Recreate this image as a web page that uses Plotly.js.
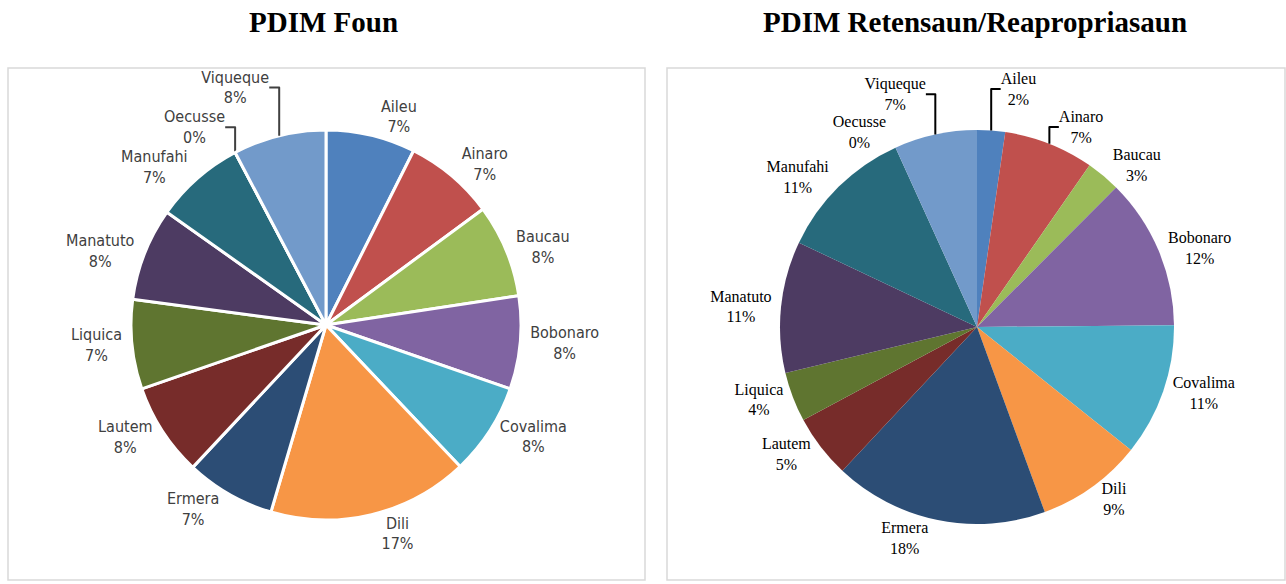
<!DOCTYPE html>
<html>
<head>
<meta charset="utf-8">
<script src="https://cdn.plot.ly/plotly-3.0.1.min.js"></script>
<style>
html,body{margin:0;padding:0;background:#fff;}
#chart{width:1286px;height:584px;}
</style>
</head>
<body>
<div id="chart"></div>
<script>
const districts = ["Aileu","Ainaro","Baucau","Bobonaro","Covalima","Dili","Ermera","Lautem","Liquica","Manatuto","Manufahi","Oecusse","Viqueque"];
const pdimFoun = [7.4, 7.45, 7.7, 7.7, 7.6, 16.6, 7.4, 7.7, 7.4, 7.7, 7.45, 0, 7.7];
const pdimRetensaun = [2.3, 7.4, 2.8, 12.4, 10.9, 8.7, 17.6, 5.2, 4.1, 10.8, 11.2, 0, 6.8];
const sliceColors = ["#4F81BD","#C0504D","#9BBB59","#8064A2","#4BACC6","#F79646","#2C4D75","#772C2A","#5F7530","#4D3B62","#276A7C","#B65708","#729ACA"];
const titles = ["PDIM Foun", "PDIM Retensaun/Reapropriasaun"];

const W = 1286, H = 584;
function px(x){return x/W;}
function py(y){return 1 - y/H;}

const traces = [
  {
    type: "pie",
    labels: districts,
    values: pdimFoun,
    sort: false,
    direction: "clockwise",
    rotation: 0,
    marker: {colors: sliceColors, line: {color: "#ffffff", width: 3}},
    textposition: "outside",
    texttemplate: "%{label}<br>%{percent:.0%}",
    textfont: {family: "Liberation Sans Narrow, DejaVu Sans Condensed, Arial Narrow, sans-serif", size: 16, color: "#404040"},
    domain: {x: [px(131), px(521)], y: [py(520), py(130)]},
    showlegend: false,
    hoverinfo: "label+percent"
  },
  {
    type: "pie",
    labels: districts,
    values: pdimRetensaun,
    sort: false,
    direction: "clockwise",
    rotation: 0,
    marker: {colors: sliceColors, line: {width: 0}},
    textposition: "outside",
    texttemplate: "%{label}<br>%{percent:.0%}",
    textfont: {family: "Liberation Serif, Times New Roman, serif", size: 16, color: "#000000"},
    domain: {x: [px(780), px(1174)], y: [py(524), py(130)]},
    showlegend: false,
    hoverinfo: "label+percent"
  }
];

const layout = {
  width: W, height: H,
  margin: {l: 0, r: 0, t: 0, b: 0},
  paper_bgcolor: "#ffffff",
  showlegend: false,
  shapes: [
    {type: "rect", xref: "paper", yref: "paper", x0: px(8), x1: px(645), y0: py(580), y1: py(68), line: {color: "#d9d9d9", width: 1.5}},
    {type: "rect", xref: "paper", yref: "paper", x0: px(667), x1: px(1285), y0: py(580), y1: py(68), line: {color: "#d9d9d9", width: 1.5}}
  ],
  annotations: [
    {text: "<b>" + titles[0] + "</b>", xref: "paper", yref: "paper", x: px(323), y: py(22), xanchor: "center", yanchor: "middle", showarrow: false, font: {family: "Liberation Serif, Times New Roman, serif", size: 29, color: "#000"}},
    {text: "<b>" + titles[1] + "</b>", xref: "paper", yref: "paper", x: px(975), y: py(22), xanchor: "center", yanchor: "middle", showarrow: false, font: {family: "Liberation Serif, Times New Roman, serif", size: 29, color: "#000"}}
  ]
};

Plotly.newPlot("chart", traces, layout, {displayModeBar: false, staticPlot: true});
</script>
</body>
</html>
